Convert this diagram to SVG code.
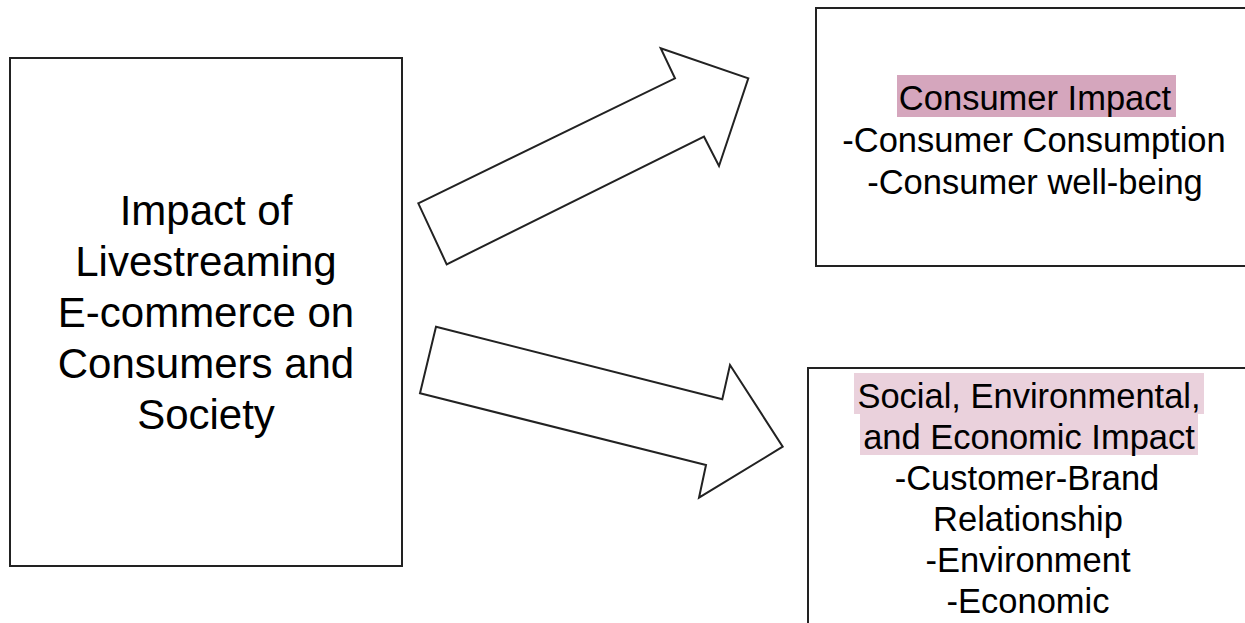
<svg xmlns="http://www.w3.org/2000/svg" width="1245" height="623" viewBox="0 0 1245 623">
<style>
.box{fill:#fff;stroke:#222;stroke-width:2}
.arrow{fill:#fff;stroke:#222;stroke-width:2;stroke-linejoin:miter}
.t{font-family:"Liberation Sans",Arial,sans-serif;fill:#000;text-anchor:middle}
.big{font-size:42px}
.mid{font-size:34.5px}
</style>
<rect width="1245" height="623" fill="#fff"/>
<g id="connectors">
<polygon class="arrow" points="418.3,203.3 675,78.3 660.7,48.3 748.3,78.3 719,166 704,136.7 446.7,264.3"/>
<polygon class="arrow" points="436,326.7 722.3,399.3 730,365 782.7,446.7 699,497.7 706,465 420,393.3"/>
</g>
<g id="node-main">
<rect class="box" x="10" y="58" width="392" height="508"/>
<text class="t big" x="206" y="225">Impact of</text>
<text class="t big" x="206" y="276">Livestreaming</text>
<text class="t big" x="206" y="327">E-commerce on</text>
<text class="t big" x="206" y="378">Consumers and</text>
<text class="t big" x="206" y="429">Society</text>
</g>
<g id="node-consumer">
<rect class="box" x="816" y="8" width="440" height="258"/>
<rect x="897" y="75" width="279" height="42" fill="#d5a6bd"/>
<text class="t mid" x="1035" y="110">Consumer Impact</text>
<text class="t mid" x="1034" y="152">-Consumer Consumption</text>
<text class="t mid" x="1035" y="194">-Consumer well-being</text>
</g>
<g id="node-social">
<rect class="box" x="808" y="368" width="450" height="270"/>
<rect x="854" y="373" width="350" height="41" fill="#ead1dc"/>
<rect x="860" y="414" width="338" height="41" fill="#ead1dc"/>
<text class="t mid" x="1029" y="408">Social, Environmental,</text>
<text class="t mid" x="1029" y="449">and Economic Impact</text>
<text class="t mid" x="1027" y="490">-Customer-Brand</text>
<text class="t mid" x="1028" y="531">Relationship</text>
<text class="t mid" x="1028" y="572">-Environment</text>
<text class="t mid" x="1028" y="613">-Economic</text>
</g>
</svg>
